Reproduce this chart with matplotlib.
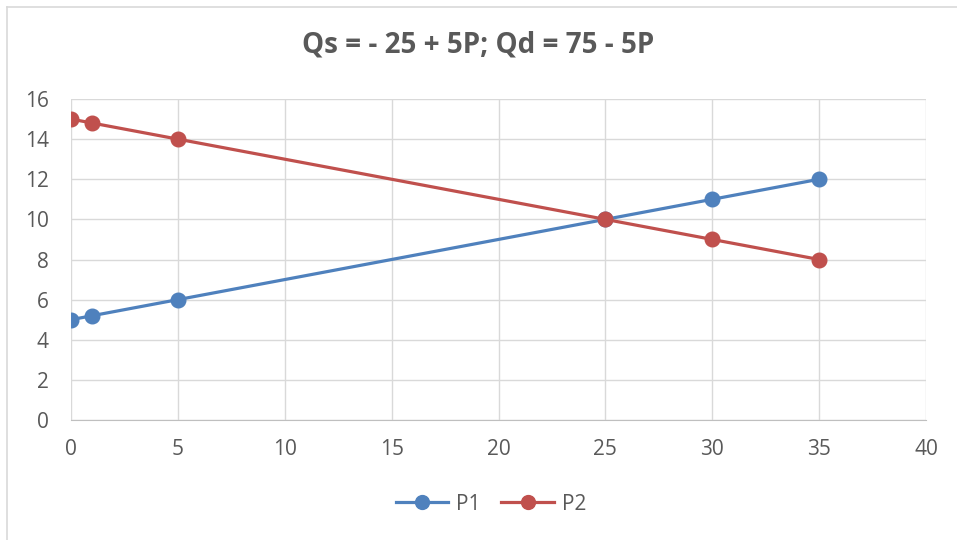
import matplotlib
matplotlib.use("Agg")
import matplotlib.pyplot as plt
from matplotlib.lines import Line2D

plt.rcParams['font.family'] = ['Open Sans', 'DejaVu Sans']

title = "Qs = - 25 + 5P; Qd = 75 - 5P"
q = [0, 1, 5, 25, 30, 35]
p1 = [5, 5.2, 6, 10, 11, 12]
p2 = [15, 14.8, 14, 10, 9, 8]
xticks = [0, 5, 10, 15, 20, 25, 30, 35, 40]
yticks = [0, 2, 4, 6, 8, 10, 12, 14, 16]

W, H = 957, 540
fig = plt.figure(figsize=(W / 100, H / 100), dpi=100)
# chart border (left and top visible; right/bottom run off the image)
bx, by = 6.5 / W, 1 - 6.5 / H
fig.add_artist(Line2D([bx, bx], [0, by], transform=fig.transFigure, color='#D9D9D9', linewidth=1.2))
fig.add_artist(Line2D([bx, 1], [by, by], transform=fig.transFigure, color='#D9D9D9', linewidth=1.2))

ax = fig.add_axes([71 / W, 1 - 420 / H, (926 - 71) / W, (420 - 99) / H])

ax.plot(q, p1, color='#4F81BD', linewidth=2.3, marker='o', markersize=10.5, label='P1', zorder=3)
ax.plot(q, p2, color='#C0504D', linewidth=2.3, marker='o', markersize=10.5, label='P2', zorder=3)

ax.set_xlim(0, 40)
ax.set_ylim(0, 16)
ax.set_xticks(xticks)
ax.set_yticks(yticks)
ax.grid(True, color='#D9D9D9', linewidth=1)
ax.set_axisbelow(True)
for s in ['top', 'right', 'left']:
    ax.spines[s].set_visible(False)
ax.spines['bottom'].set_color('#BFBFBF')
ax.tick_params(length=0, labelsize=15, colors='#595959')
ax.tick_params(axis='y', pad=16)
ax.tick_params(axis='x', pad=14)

fig.text(0.5, 1 - 45 / H, title, ha='center', va='center', fontsize=20, fontweight='bold',
         color='#595959')

fig.legend(handles=ax.get_lines(), loc='center', bbox_to_anchor=(491 / W, 1 - 504 / H), ncol=2,
           frameon=False, fontsize=15, labelcolor='#595959', handlelength=2.5, columnspacing=1.0,
           handletextpad=0.4, markerscale=0.95)

fig.savefig('out.png', dpi=100)
